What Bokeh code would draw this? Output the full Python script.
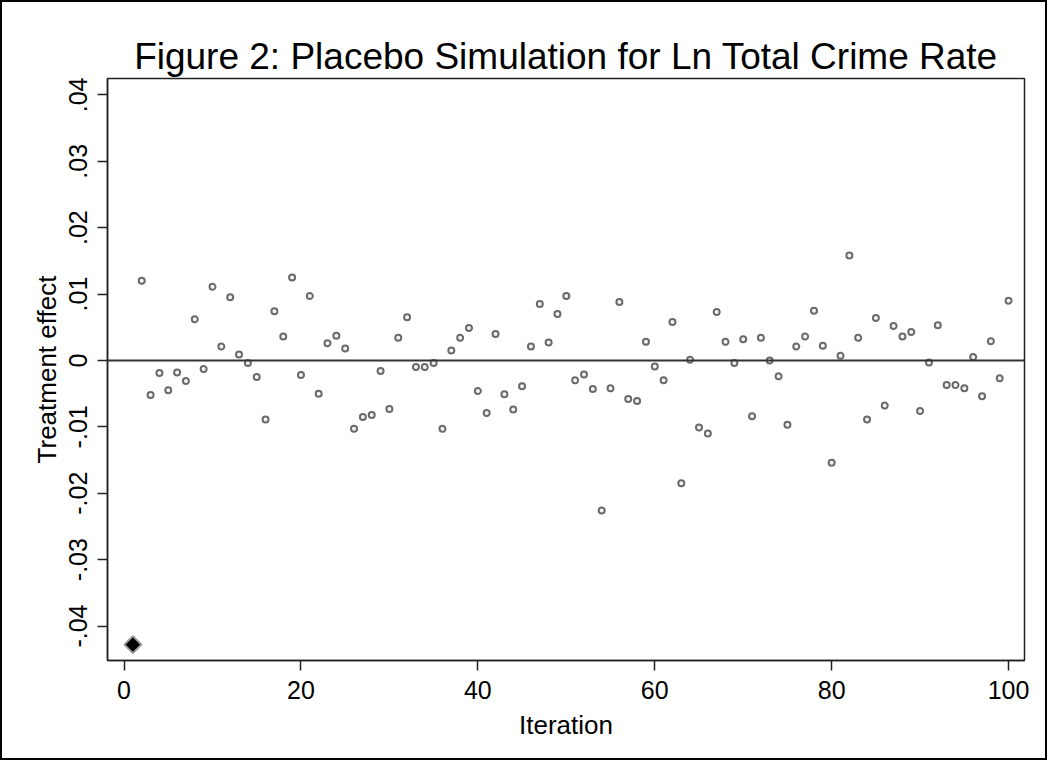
import math
from bokeh.plotting import figure
from bokeh.models import FixedTicker, Span, ColumnDataSource
from bokeh.embed import file_html
from bokeh.resources import INLINE

# Placebo iterations (iteration 1 is the actual estimate, shown as a diamond)
actual_iter = [1]
actual_effect = [-0.0428]

placebo_iter = list(range(2, 101))
placebo_effect = [
    0.0120, -0.0052, -0.0019, -0.0045, -0.0018, -0.0031, 0.0062, -0.0013, 0.0111,
    0.0021, 0.0095, 0.0009, -0.0004, -0.0025, -0.0089, 0.0074, 0.0036, 0.0125, -0.0022,
    0.0097, -0.0050, 0.0026, 0.0037, 0.0018, -0.0103, -0.0085, -0.0082, -0.0016, -0.0073,
    0.0034, 0.0065, -0.0010, -0.0010, -0.0004, -0.0103, 0.0015, 0.0034, 0.0049, -0.0046,
    -0.0079, 0.0040, -0.0051, -0.0074, -0.0039, 0.0021, 0.0085, 0.0027, 0.0070, 0.0097,
    -0.0030, -0.0021, -0.0043, -0.0226, -0.0042, 0.0088, -0.0058, -0.0061, 0.0028, -0.0009,
    -0.0030, 0.0058, -0.0185, 0.0001, -0.0101, -0.0110, 0.0073, 0.0028, -0.0004, 0.0032,
    -0.0084, 0.0034, 0.0000, -0.0024, -0.0097, 0.0021, 0.0036, 0.0075, 0.0022, -0.0154,
    0.0007, 0.0158, 0.0034, -0.0089, 0.0064, -0.0068, 0.0052, 0.0036, 0.0043, -0.0076,
    -0.0003, 0.0053, -0.0037, -0.0037, -0.0042, 0.0005, -0.0054, 0.0029, -0.0027, 0.0090,
]

x_ticks = [0, 20, 40, 60, 80, 100]
y_ticks = [-0.04, -0.03, -0.02, -0.01, 0.0, 0.01, 0.02, 0.03, 0.04]
y_tick_labels = ["-.04", "-.03", "-.02", "-.01", "0", ".01", ".02", ".03", ".04"]

FONT = "Liberation Sans"

p = figure(
    width=1047, height=760,
    x_range=(-1.87, 101.8), y_range=(-0.04519, 0.04246),
    output_backend="svg", toolbar_location=None,
    title="Figure 2: Placebo Simulation for Ln Total Crime Rate",
    min_border_left=105, min_border_right=25, min_border_top=76, min_border_bottom=102,
)
p.styles = {"border": "2.5px solid black"}

p.title.align = "center"
p.title.text_font = FONT
p.title.text_font_size = "37px"
p.title.text_font_style = "normal"
p.title.text_color = "black"
p.title.standoff = 4

p.background_fill_color = "white"
p.border_fill_color = "white"
p.outline_line_color = "#222222"
p.outline_line_width = 1.5
p.xgrid.visible = False
p.ygrid.visible = False

for ax in (p.xaxis, p.yaxis):
    ax.axis_line_color = "#222222"
    ax.axis_line_width = 1.5
    ax.major_tick_line_color = "#222222"
    ax.major_tick_line_width = 1.5
    ax.major_tick_out = 10
    ax.major_tick_in = 0
    ax.minor_tick_line_color = None
    ax.major_label_text_font = FONT
    ax.major_label_text_font_size = "25px"
    ax.major_label_text_color = "black"
    ax.axis_label_text_font = FONT
    ax.axis_label_text_font_size = "26px"
    ax.axis_label_text_font_style = "normal"
    ax.axis_label_text_color = "black"

p.xaxis.ticker = FixedTicker(ticks=x_ticks)
p.xaxis.axis_label = "Iteration"
p.xaxis.major_label_standoff = 10
p.xaxis.axis_label_standoff = 8

p.yaxis.ticker = FixedTicker(ticks=y_ticks)
p.yaxis.major_label_overrides = {t: l for t, l in zip(y_ticks, y_tick_labels)}
p.yaxis.major_label_orientation = "vertical"
p.yaxis.axis_label = "Treatment effect"
p.yaxis.major_label_standoff = 10
p.yaxis.axis_label_standoff = 5

p.add_layout(Span(location=0, dimension="width", line_color="#333333", line_width=2))

src_p = ColumnDataSource(dict(x=placebo_iter, y=placebo_effect))
p.scatter("x", "y", source=src_p, marker="circle", size=6,
          fill_color="#f4f4f4", line_color="#6a6a6a", line_width=2)

src_a = ColumnDataSource(dict(x=actual_iter, y=actual_effect))
p.scatter("x", "y", source=src_a, marker="square", size=12, angle=math.pi / 4,
          fill_color="black", line_color="#9a9a9a", line_width=2)

open("out.html", "w").write(file_html(p, INLINE))
